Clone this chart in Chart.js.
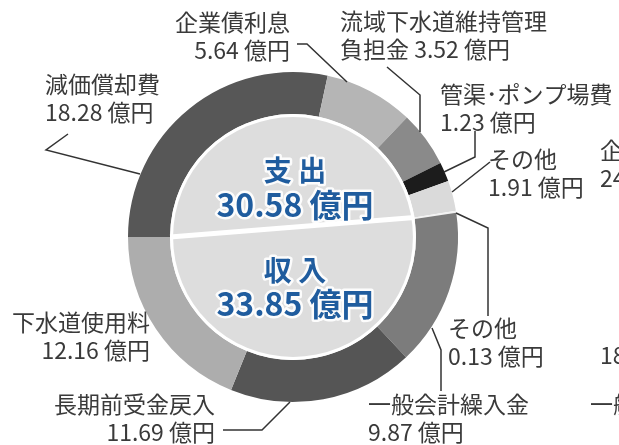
<!DOCTYPE html>
<html>
<head>
<meta charset="utf-8">
<script src="https://cdn.jsdelivr.net/npm/chart.js@4/dist/chart.umd.min.js"></script>
<style>
  body { margin: 0; background: #fff; }
</style>
</head>
<body>
<canvas id="chart" width="619" height="445"></canvas>
<script>
// 支出 (expenditure), clockwise from the left
const expenseLabels = ['減価償却費', '企業債利息', '流域下水道維持管理負担金', '管渠･ポンプ場費', 'その他']
const expenseValues = [18.28, 5.64, 3.52, 1.23, 1.91]

// 収入 (revenue), clockwise from the right
const incomeLabels = ['その他', '一般会計繰入金', '長期前受金戻入', '下水道使用料']
const incomeValues = [0.13, 9.87, 11.69, 12.16]

const expenseTotal = '30.58'
const incomeTotal = '33.85'

const expenseColors = ['#575757', '#b5b5b5', '#8a8a8a', '#1c1c1c', '#dadada']
const incomeColors = ['#f2f2f2', '#7c7c7c', '#555555', '#adadad']

// cut-off labels of the neighbouring chart at the right edge
const neighbourText = [
    { text: '企業債', x: 600, y: 150 },
    { text: '24.', x: 600, y: 178 },
    { text: '18.', x: 600, y: 355 },
    { text: '一般会計', x: 590, y: 404 }
]

const allLabels = expenseLabels.concat(incomeLabels)
const allValues = expenseValues.concat(incomeValues)

const fmt = v => v.toFixed(2) + ' 億円'

// label placement: index into allLabels, split point of the name, anchor and leader
const labelLayout = [
    { i: 0, x: 45, y: 84, align: 'left', leader: [[68, 134], [46, 150], [140, 174]] },
    { i: 1, x: 290, y: 22, align: 'right', leader: [[297, 44], [307, 44], [347, 82]] },
    { i: 2, x: 340, y: 21, align: 'left', split: 9, leader: [[387, 67], [420, 95], [420, 132]] },
    { i: 3, x: 440, y: 94, align: 'left', leader: [[475, 131], [475, 157], [444, 172]] },
    { i: 4, x: 488, y: 159, align: 'left', leader: [[490, 162], [452, 192]] },
    { i: 5, x: 448, y: 328, align: 'left', leader: [[456, 213], [488, 228], [488, 316]] },
    { i: 6, x: 368, y: 404, align: 'left', leader: [[432, 328], [441, 350], [441, 391]] },
    { i: 7, x: 215, y: 404, align: 'right', leader: [[223, 430], [262, 430], [290, 402]] },
    { i: 8, x: 150, y: 322, align: 'right' }
]

const jp = '"Noto Sans CJK JP", "Noto Sans", sans-serif'

const centrePlugin = {
    id: 'centre',
    afterDatasetsDraw(chart) {
        const ctx = chart.ctx
        const arcs = chart.getDatasetMeta(0).data
        const a0 = arcs[0]
        const cx = a0.x, cy = a0.y, r = a0.innerRadius
        ctx.save()
        ctx.fillStyle = '#ffffff'
        ctx.beginPath(); ctx.arc(cx, cy, r, 0, Math.PI * 2); ctx.fill()
        ctx.fillStyle = '#dddddd'
        ctx.beginPath(); ctx.arc(cx, cy, r - 3, 0, Math.PI * 2); ctx.fill()

        // white divider between expenditure and revenue
        const s = a0.startAngle
        const e = arcs[expenseValues.length - 1].endAngle
        ctx.strokeStyle = '#ffffff'
        ctx.lineWidth = 5
        ctx.beginPath()
        ctx.moveTo(cx + r * Math.cos(s), cy + r * Math.sin(s))
        ctx.lineTo(cx + r * Math.cos(e), cy + r * Math.sin(e))
        ctx.stroke()

        ctx.textAlign = 'center'
        ctx.textBaseline = 'middle'
        ctx.lineJoin = 'round'
        const rows = [
            { t: '支 出', y: cy - 67, size: 28 },
            { t: expenseTotal + ' 億円', y: cy - 32, size: 32 },
            { t: '収 入', y: cy + 33, size: 28 },
            { t: incomeTotal + ' 億円', y: cy + 67, size: 32 }
        ]
        rows.forEach(row => {
            ctx.font = `bold ${row.size}px ${jp}`
            ctx.strokeStyle = 'rgba(255,255,255,0.9)'
            ctx.lineWidth = 5
            ctx.strokeText(row.t, cx + 2, row.y)
            ctx.fillStyle = '#1f5c9e'
            ctx.fillText(row.t, cx + 2, row.y)
        })
        ctx.restore()
    }
}

const labelPlugin = {
    id: 'calloutLabels',
    afterDraw(chart) {
        const ctx = chart.ctx
        ctx.save()
        ctx.font = `23px ${jp}`
        ctx.fillStyle = '#3a3a3a'
        ctx.textBaseline = 'middle'
        labelLayout.forEach(l => {
            const name = allLabels[l.i]
            let line1 = name, line2 = fmt(allValues[l.i])
            if (l.split) {
                line1 = name.slice(0, l.split)
                line2 = name.slice(l.split) + ' ' + line2
            }
            ctx.textAlign = l.align
            ctx.fillText(line1, l.x, l.y)
            ctx.fillText(line2, l.x, l.y + 28)
            if (l.leader) {
                ctx.strokeStyle = '#333333'
                ctx.lineWidth = 1.5
                ctx.beginPath()
                l.leader.forEach((p, k) => k ? ctx.lineTo(p[0], p[1]) : ctx.moveTo(p[0], p[1]))
                ctx.stroke()
            }
        })
        ctx.textAlign = 'left'
        neighbourText.forEach(n => ctx.fillText(n.text, n.x, n.y))
        ctx.restore()
    }
}

const data = {
    labels: allLabels,
    datasets: [{
        data: allValues,
        backgroundColor: expenseColors.concat(incomeColors),
        borderWidth: 0
    }]
}

const config = {
    type: 'doughnut',
    data,
    options: {
        responsive: false,
        animation: false,
        rotation: -90,
        cutout: '74.5%',
        plugins: {
            legend: { display: false },
            tooltip: { enabled: false }
        },
        layout: {
            padding: { left: 128, top: 72, right: 161, bottom: 43 }
        }
    },
    plugins: [centrePlugin, labelPlugin]
}

new Chart(document.getElementById('chart').getContext('2d'), config)
</script>
</body>
</html>
